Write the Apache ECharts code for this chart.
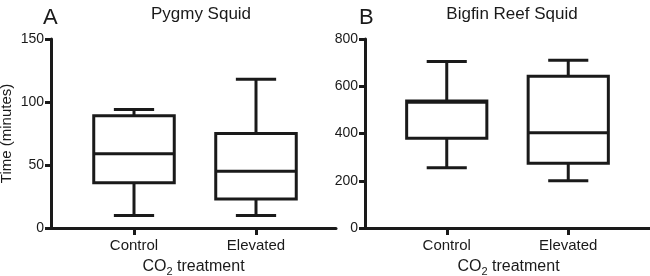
<!DOCTYPE html>
<html lang="en">
<head>
    <meta charset="UTF-8">
    <title>Squid boxplots</title>
    <script type="text/javascript" src="https://cdn.jsdelivr.net/npm/echarts@6/dist/echarts.min.js"></script>
    <style>
        html, body { margin: 0; padding: 0; background: #fff; }
    </style>
</head>
<body>
<div id="main" style="width: 650px;height:276px;"></div>
<script type="text/javascript">
    // values: [min, Q1, median, Q3, max]
    var categories = ['Control', 'Elevated'];
    var pygmyControl = [10, 36, 59, 89, 94];
    var pygmyElevated = [10, 23, 45, 75, 118];
    var bigfinControl = [255, 380, 532, 538, 705];
    var bigfinElevated = [200, 274, 403, 642, 710];
    var pygmyTicks = [0, 50, 100, 150];
    var bigfinTicks = [0, 200, 400, 600, 800];

    var ink = '#1a1a1a';
    var font = 'Liberation Sans';

    function toRows(list) {
        return list.map(function (s, i) { return [i].concat(s); });
    }

    // box with whiskers, caps are half the box width like in the figure
    function renderBox(params, api) {
        var x = api.value(0);
        var lo = api.coord([x, api.value(1)]);
        var q1 = api.coord([x, api.value(2)]);
        var md = api.coord([x, api.value(3)]);
        var q3 = api.coord([x, api.value(4)]);
        var hi = api.coord([x, api.value(5)]);
        var band = api.size([1, 0])[0];
        var bw = band * 0.66;
        var cw = bw / 2;
        var cx = lo[0];
        var st = {stroke: ink, lineWidth: 3, fill: null};
        return {
            type: 'group',
            children: [
                {type: 'line', shape: {x1: cx, y1: lo[1], x2: cx, y2: q1[1]}, style: st},
                {type: 'line', shape: {x1: cx, y1: q3[1], x2: cx, y2: hi[1]}, style: st},
                {type: 'line', shape: {x1: cx - cw / 2, y1: lo[1], x2: cx + cw / 2, y2: lo[1]}, style: st},
                {type: 'line', shape: {x1: cx - cw / 2, y1: hi[1], x2: cx + cw / 2, y2: hi[1]}, style: st},
                {type: 'rect', shape: {x: cx - bw / 2, y: q3[1], width: bw, height: q1[1] - q3[1]},
                    style: {stroke: ink, lineWidth: 3, fill: '#fff'}},
                {type: 'line', shape: {x1: cx - bw / 2, y1: md[1], x2: cx + bw / 2, y2: md[1]}, style: st}
            ]
        };
    }

    function valueAxis(grid, ticks, withName) {
        var ax = {
            type: 'value', gridIndex: grid,
            min: ticks[0], max: ticks[ticks.length - 1], interval: ticks[1] - ticks[0],
            axisLine: {show: true, lineStyle: {color: ink, width: 3}},
            axisTick: {show: true, length: 6, lineStyle: {color: ink, width: 3}},
            axisLabel: {color: ink, fontSize: 14, fontFamily: font, margin: 7},
            splitLine: {show: false}
        };
        if (withName) {
            ax.name = 'Time (minutes)';
            ax.nameLocation = 'middle';
            ax.nameGap = 37;
            ax.nameTextStyle = {color: ink, fontSize: 15, fontFamily: font};
        }
        return ax;
    }

    function hiddenValue(grid, ticks) {
        return {type: 'value', gridIndex: grid, min: ticks[0], max: ticks[ticks.length - 1],
            show: false, splitLine: {show: false}};
    }

    function lineAxis(grid) {
        return {
            type: 'value', gridIndex: grid, min: 0, max: 1,
            axisLine: {show: true, onZero: false, lineStyle: {color: ink, width: 3}},
            axisTick: {show: false}, axisLabel: {show: false}, splitLine: {show: false},
            name: '{a|CO}{b|2}{a| treatment}', nameLocation: 'middle', nameGap: 29,
            nameTextStyle: {
                rich: {
                    a: {color: ink, fontSize: 16, fontFamily: font},
                    b: {color: ink, fontSize: 11, fontFamily: font, padding: [9, 0, 0, 0]}
                }
            }
        };
    }

    function catAxis(grid) {
        return {
            type: 'category', gridIndex: grid, data: categories,
            axisLine: {show: false},
            axisTick: {show: true, alignWithLabel: true, length: 7, lineStyle: {color: ink, width: 3}},
            axisLabel: {color: ink, fontSize: 15, fontFamily: font, margin: 10}
        };
    }

    function box(l, r) {
        return {left: l, right: r, top: 39, bottom: 48, containLabel: false, outerBoundsMode: 'none'};
    }

    var myChart = echarts.init(document.getElementById('main'));
    myChart.setOption({
        animation: false,
        backgroundColor: '#fff',
        title: [
            {text: 'A', left: 38, top: 2, textStyle: {color: ink, fontSize: 22, fontWeight: 'normal', fontFamily: font}},
            {text: 'Pygmy Squid', left: 196, top: 1, textAlign: 'center',
                textStyle: {color: ink, fontSize: 17, fontWeight: 'normal', fontFamily: font}},
            {text: 'B', left: 354, top: 2, textStyle: {color: ink, fontSize: 22, fontWeight: 'normal', fontFamily: font}},
            {text: 'Bigfin Reef Squid', left: 507, top: 1, textAlign: 'center',
                textStyle: {color: ink, fontSize: 17, fontWeight: 'normal', fontFamily: font}}
        ],
        grid: [box(51, 314), box(73, 333), box(365, -2), box(386, 21)],
        xAxis: [lineAxis(0), catAxis(1), lineAxis(2), catAxis(3)],
        yAxis: [
            valueAxis(0, pygmyTicks, true),
            hiddenValue(1, pygmyTicks),
            valueAxis(2, bigfinTicks, false),
            hiddenValue(3, bigfinTicks)
        ],
        series: [
            {type: 'custom', xAxisIndex: 1, yAxisIndex: 1, renderItem: renderBox,
                encode: {x: 0, y: [1, 2, 3, 4, 5]}, data: toRows([pygmyControl, pygmyElevated])},
            {type: 'custom', xAxisIndex: 3, yAxisIndex: 3, renderItem: renderBox,
                encode: {x: 0, y: [1, 2, 3, 4, 5]}, data: toRows([bigfinControl, bigfinElevated])}
        ]
    });
</script>
</body>
</html>
